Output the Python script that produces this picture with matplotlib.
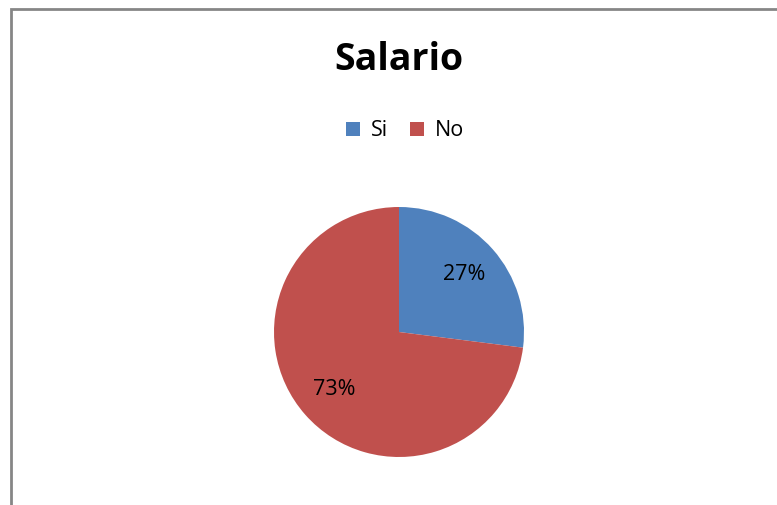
import matplotlib.pyplot as plt
from matplotlib.patches import Rectangle

labels = ['Si', 'No']
values = [27, 73]
colors = ['#4F81BD', '#C0504D']

W, H = 777, 505
fig = plt.figure(figsize=(W / 100, H / 100), dpi=100)
plt.rcParams['font.family'] = ['Open Sans', 'DejaVu Sans']

# border of chart area (cut on right and bottom)
fig.patches.append(Rectangle((10.5 / W, -0.05), 1.0, 1 - 8.5 / H + 0.05,
                             transform=fig.transFigure, fill=False,
                             edgecolor='#868686', linewidth=2))

cx, cy, r = 399, 332, 125
ax = fig.add_axes([(cx - r) / W, 1 - (cy + r) / H, 2 * r / W, 2 * r / H])
wedges, texts, autotexts = ax.pie(values, colors=colors, startangle=90,
                                  counterclock=False, autopct='%1.0f%%',
                                  pctdistance=0.69, radius=1,
                                  textprops={'fontsize': 15.5, 'color': 'black'})
ax.set_xlim(-1, 1)
ax.set_ylim(-1, 1)
ax.set_aspect('equal')
ax.axis('off')

fig.text(399 / W, 1 - 60 / H, 'Salario', ha='center', va='center',
         fontsize=27, fontweight='bold')

fig.legend(wedges, labels, loc='center', bbox_to_anchor=(405 / W, 1 - 131 / H),
           ncol=2, frameon=False, fontsize=15.5, handlelength=0.65,
           handleheight=0.65, handletextpad=0.5, columnspacing=1.0)

fig.savefig('out.png', dpi=100)
